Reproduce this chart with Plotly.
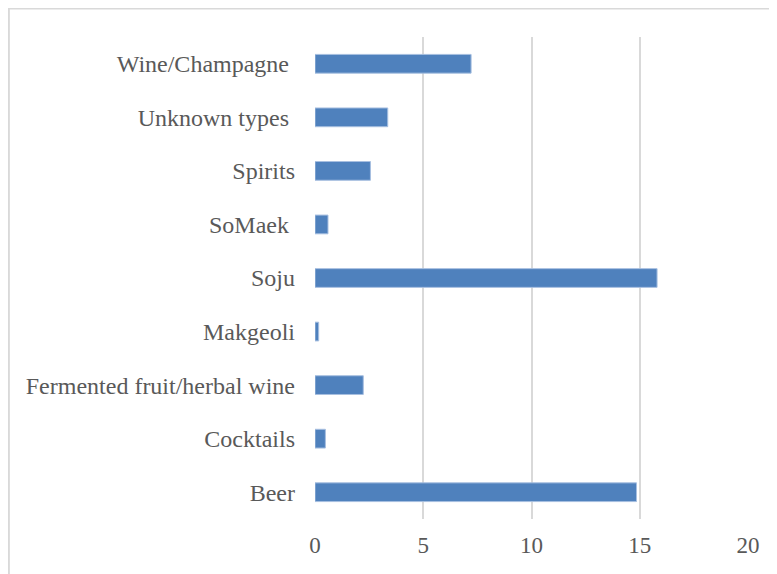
import plotly.graph_objects as go

categories = ["Beer", "Cocktails", "Fermented fruit/herbal wine", "Makgeoli", "Soju",
              "SoMaek ", "Spirits", "Unknown types ", "Wine/Champagne "]
values = [14.85, 0.48, 2.23, 0.17, 15.8, 0.6, 2.56, 3.36, 7.21]
x_ticks = [0, 5, 10, 15, 20]

# page body has an 8px offset, so the plot area is placed accordingly
L, T, PW, PH = 307, 29, 433, 482

fig = go.Figure(go.Bar(
    x=values, y=categories, orientation="h",
    marker=dict(color="#4f81bd", line=dict(color="#a7bfe0", width=1)),
))

fig.update_layout(
    width=777, height=574,
    margin=dict(l=L, r=777 - L - PW, t=T, b=574 - T - PH),
    paper_bgcolor="white", plot_bgcolor="white",
    bargap=0.65,
    showlegend=False,
    font=dict(family="Liberation Serif", size=23, color="#595959"),
    xaxis=dict(range=[0, 20], tickvals=x_ticks, showgrid=True, gridcolor="#d9d9d9",
               gridwidth=1.5, zeroline=False, showline=False, ticks="",
               ticklabelstandoff=10,
               tickfont=dict(size=23, color="#595959")),
    yaxis=dict(categoryorder="array", categoryarray=categories, showgrid=False,
               zeroline=False, showline=False, ticks="", ticklabelstandoff=19,
               tickfont=dict(size=24, color="#595959")),
    shapes=[
        dict(type="line", xref="paper", yref="paper", x0=-L / PW, x1=1.2,
             y0=1 + T / PH - 0.001, y1=1 + T / PH - 0.001, line=dict(color="#d9d9d9", width=2)),
        dict(type="line", xref="paper", yref="paper", x0=-L / PW + 0.002, x1=-L / PW + 0.002,
             y0=1 + T / PH, y1=-0.2, line=dict(color="#d9d9d9", width=2)),
    ],
)

fig.write_html("out.html")
